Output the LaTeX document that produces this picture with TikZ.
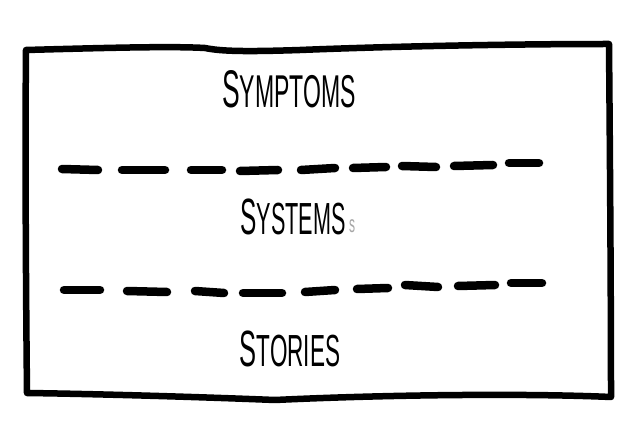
\documentclass[tikz,border=0pt]{standalone}
\usepackage{fontspec}
\newfontfamily\hand[FakeStretch=0.5]{Liberation Sans}
\newfontfamily\handnarrow[FakeStretch=0.48]{Liberation Sans}
\begin{document}
\begin{tikzpicture}[x=1pt,y=-1pt,
  frame/.style={line width=6.5pt,line join=round,line cap=round},
  dashstroke/.style={line width=8.5pt,line cap=round},
  label/.style={font=\hand,inner sep=0pt,anchor=center},
]
\fill[white] (0,0) rectangle (634,438);
\useasboundingbox (0,0) rectangle (634,438);
% hand-drawn frame
\draw[frame] (26,50) .. controls (100,48) and (170,46) .. (205,48)
  .. controls (220,51) and (240,52) .. (300,50)
  .. controls (400,46) and (520,44) .. (609,44)
  .. controls (610,160) and (611,300) .. (611,397)
  .. controls (520,393) and (380,395) .. (275,400)
  .. controls (200,397) and (100,394) .. (27,393)
  .. controls (26,300) and (25,150) .. (26,50) -- cycle;
% first dashed line
\foreach \a/\b/\ya/\yb in {62/98/169/170, 122/165/170/170, 191/222/170/170, 240/278/171/170, 301/335/170/168, 353/386/168/167, 402/436/166/167, 454/493/166/165, 509/539/163/163}
  \draw[dashstroke] (\a,\ya) -- (\b,\yb);
% second dashed line
\foreach \a/\b/\ya/\yb in {64/100/290/290, 127/167/291/292, 195/224/291/293, 243/282/293/293, 305/335/292/290, 357/388/289/288, 405/438/285/287, 458/495/286/285, 511/542/283/283}
  \draw[dashstroke] (\a,\ya) -- (\b,\yb);
% texts
\node[label] (symptoms) at (289,89) {\fontsize{53}{53}\selectfont S\fontsize{46}{46}\selectfont YMPTOMS};
\node[label,font=\handnarrow] (systems) at (293,217) {\fontsize{51}{51}\selectfont S\fontsize{45}{45}\selectfont YSTEMS};
\node[label,text=black!35,anchor=west] (extra) at (349,226) {\fontsize{24}{24}\selectfont s};
\node[label] (stories) at (290,349) {\fontsize{51}{51}\selectfont S\fontsize{45}{45}\selectfont TORIES};
\end{tikzpicture}
\end{document}
